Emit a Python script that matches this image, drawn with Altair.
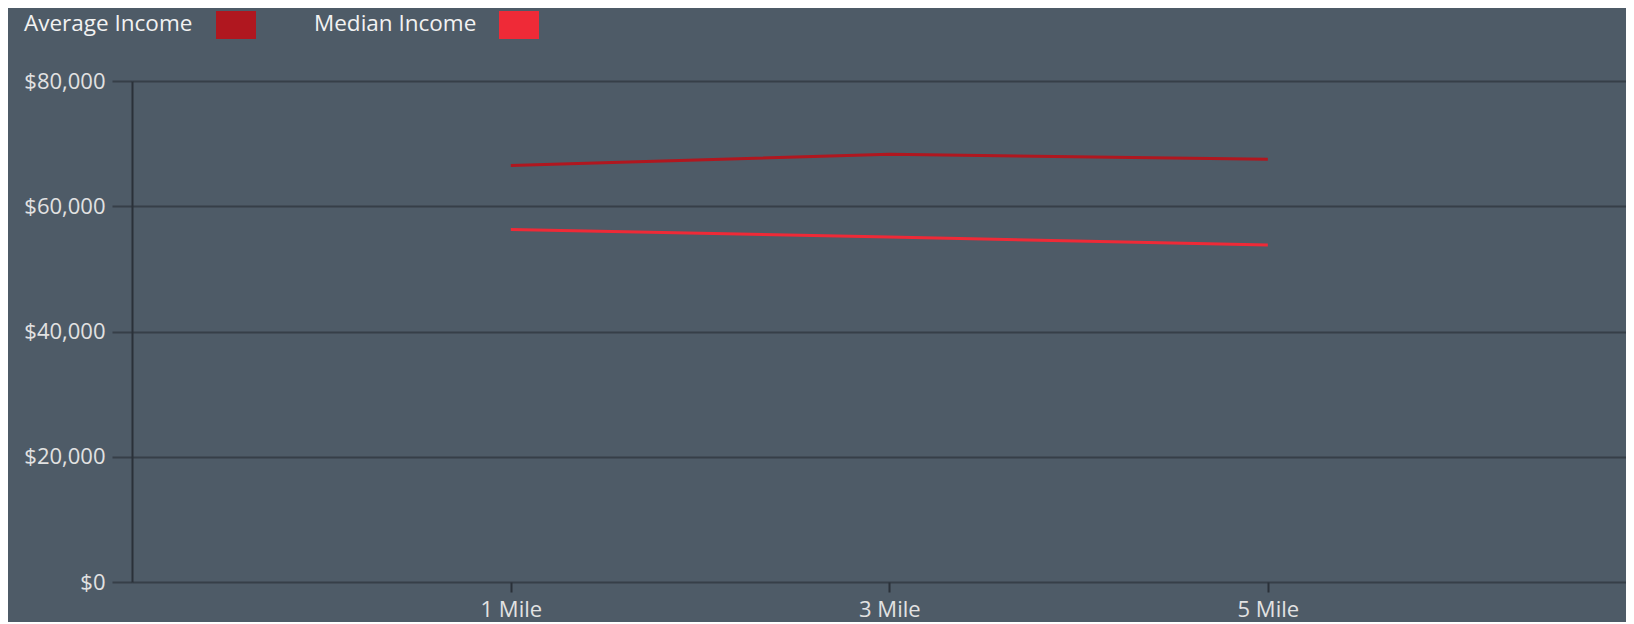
import altair as alt
import pandas as pd

distances = ["1 Mile", "3 Mile", "5 Mile"]
average_income = [66500, 68300, 67500]
median_income = [56300, 55100, 53800]
series_names = ["Average Income", "Median Income"]
series_colors = ["#b0171f", "#ef2a37"]
y_ticks = [0, 20000, 40000, 60000, 80000]

rows = []
for name, vals in zip(series_names, [average_income, median_income]):
    for d, v in zip(distances, vals):
        rows.append({"distance": d, "series": name, "value": v})
df = pd.DataFrame(rows)
legend_df = pd.DataFrame({"series": series_names})

BG = "#4e5b67"
GRID = "#363f48"
AXIS = "#2a3139"
TEXT = "#e2e2e2"
FONT = "Open Sans"

color_scale = alt.Scale(domain=series_names, range=series_colors)

lines = alt.Chart(df).mark_line(strokeWidth=3).encode(
    x=alt.X(
        "distance:N",
        sort=distances,
        scale=alt.Scale(type="point", padding=0.9736, align=0.514),
        axis=alt.Axis(
            title=None, labelAngle=0, grid=False, domain=False,
            ticks=True, tickSize=10, tickColor=AXIS, tickWidth=2,
            labelPadding=7, labelFontSize=22, labelColor=TEXT, labelFont=FONT,
        ),
    ),
    y=alt.Y(
        "value:Q",
        scale=alt.Scale(domain=[0, 80000], nice=False),
        axis=alt.Axis(
            title=None, values=y_ticks, format="$,.0f",
            grid=True, gridColor=GRID, gridWidth=2,
            domain=True, domainColor=AXIS, domainWidth=2,
            tickSize=20, tickColor=GRID, tickWidth=2,
            labelPadding=7, labelFontSize=22, labelColor=TEXT, labelFont=FONT,
        ),
    ),
    color=alt.Color("series:N", sort=series_names, scale=color_scale, legend=None),
)

# hand-made legend: label text first, colour swatch to its right
# (layout offsets in pixels relative to the plot area's top-left corner)
legend_text_x = [-108, 182]
legend_swatch_x = [84, 367]
SWATCH_W, SWATCH_TOP, SWATCH_BOTTOM, TEXT_Y = 40, -70, -42, -57

legend_layers = []
for i, name in enumerate(series_names):
    base = alt.Chart(legend_df).transform_filter(alt.datum.series == name)
    legend_layers.append(
        base.mark_text(align="left", baseline="middle", fontSize=22.5, font=FONT, color="#f2f2f2")
        .encode(text="series:N", x=alt.value(legend_text_x[i]), y=alt.value(TEXT_Y))
    )
    legend_layers.append(
        base.mark_rect()
        .encode(
            x=alt.value(legend_swatch_x[i]),
            x2=alt.value(legend_swatch_x[i] + SWATCH_W),
            y=alt.value(SWATCH_TOP),
            y2=alt.value(SWATCH_BOTTOM),
            color=alt.Color("series:N", scale=color_scale, legend=None),
        )
    )

chart = alt.layer(lines, *legend_layers).properties(
    width=1494,
    height=501,
    autosize=alt.AutoSizeParams(type="none"),
    padding={"left": 124, "top": 73, "right": 0, "bottom": 40},
    background=BG,
).configure_view(stroke=None)

chart.save("out.html", embed_options={"renderer": "svg", "actions": False})
